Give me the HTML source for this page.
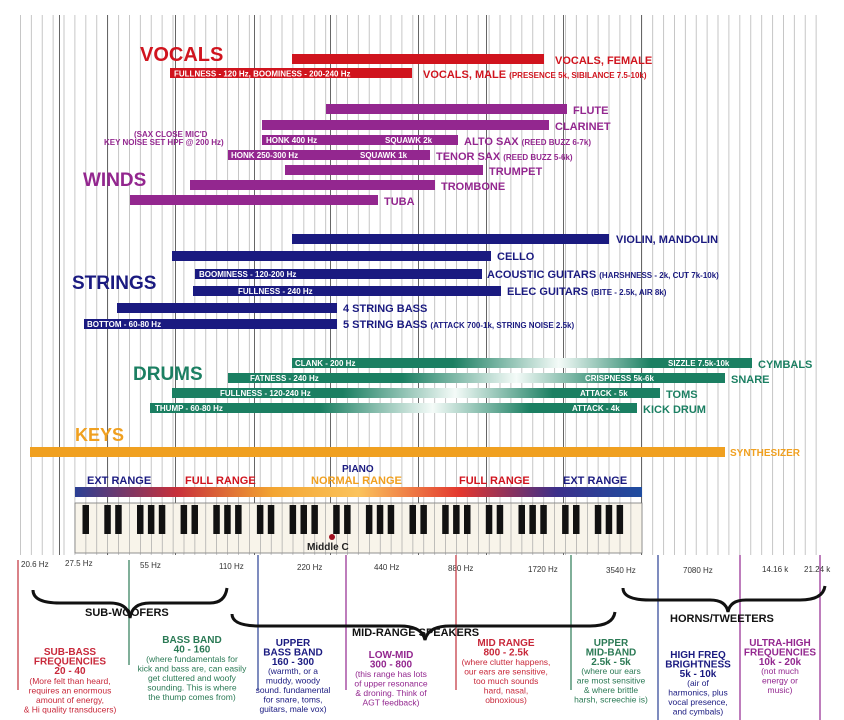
<!DOCTYPE html>
<html><head><meta charset="utf-8"><style>
html,body{margin:0;padding:0;background:#fff}
svg{display:block}
.c{font-family:"Liberation Sans Narrow","Liberation Sans",sans-serif;font-weight:bold}
.s{font-family:"Liberation Sans",sans-serif}
</style></head><body>
<svg width="844" height="720" viewBox="0 0 844 720" xmlns="http://www.w3.org/2000/svg">
<defs>
<pattern id="g" x="20" y="0" width="10.9" height="10" patternUnits="userSpaceOnUse">
<rect x="0" y="0" width="0.8" height="10" fill="#b8b8b8"/></pattern>
<linearGradient id="dr" x1="0" x2="1" y1="0" y2="0">
<stop offset="0" stop-color="#1b7f62"/><stop offset="0.35" stop-color="#1b7f62"/>
<stop offset="0.58" stop-color="#f4fbf8"/><stop offset="0.78" stop-color="#1b7f62"/><stop offset="1" stop-color="#1b7f62"/></linearGradient>
<linearGradient id="pg" x1="0" x2="1">
<stop offset="0" stop-color="#2a3f94"/><stop offset="0.18" stop-color="#c8303a"/>
<stop offset="0.35" stop-color="#f3a531"/><stop offset="0.5" stop-color="#fbc35c"/>
<stop offset="0.68" stop-color="#e2362e"/><stop offset="0.85" stop-color="#3b2f8a"/><stop offset="1" stop-color="#1f4da0"/></linearGradient>
</defs>
<rect x="18" y="15" width="808" height="540" fill="url(#g)"/>
<g fill="#666">
<rect x="59" y="15" width="1" height="540"/><rect x="107" y="15" width="1" height="540"/>
<rect x="175" y="15" width="1" height="540"/><rect x="254" y="15" width="1" height="540"/>
<rect x="330" y="15" width="1" height="540"/><rect x="418" y="15" width="1" height="540"/>
<rect x="486" y="15" width="1" height="540"/><rect x="563" y="15" width="1" height="540"/>
<rect x="641" y="15" width="1" height="540"/>
</g>
<!-- VOCALS -->
<text x="140" y="61" class="c" font-size="20" fill="#d0141e">VOCALS</text>
<rect x="292" y="54" width="252" height="10" fill="#d0141e"/>
<text x="555" y="64" class="c" font-size="11" fill="#d0141e">VOCALS, FEMALE</text>
<rect x="170" y="68" width="242" height="10" fill="#d0141e"/>
<text x="174" y="76.5" class="c" font-size="8" fill="#fff">FULLNESS - 120 Hz, BOOMINESS - 200-240 Hz</text>
<text x="423" y="78" class="c" font-size="11" fill="#d0141e">VOCALS, MALE <tspan font-size="8">(PRESENCE 5k, SIBILANCE 7.5-10k)</tspan></text>
<!-- WINDS -->
<g fill="#93278f">
<rect x="326" y="104" width="241" height="10"/><rect x="262" y="120" width="287" height="10"/>
<rect x="262" y="135" width="196" height="10"/><rect x="228" y="150" width="202" height="10"/>
<rect x="285" y="165" width="198" height="10"/><rect x="190" y="180" width="245" height="10"/>
<rect x="130" y="195" width="248" height="10"/>
</g>
<g class="c" fill="#93278f" font-size="11">
<text x="573" y="114">FLUTE</text><text x="555" y="130">CLARINET</text>
<text x="464" y="145">ALTO SAX <tspan font-size="8">(REED BUZZ 6-7k)</tspan></text>
<text x="436" y="160">TENOR SAX <tspan font-size="8">(REED BUZZ 5-6k)</tspan></text>
<text x="489" y="175">TRUMPET</text><text x="441" y="190">TROMBONE</text><text x="384" y="205">TUBA</text>
<text x="83" y="186" font-size="19">WINDS</text>
<text x="134" y="137" font-size="8">(SAX CLOSE MIC'D</text>
<text x="104" y="145" font-size="8">KEY NOISE SET HPF @ 200 Hz)</text>
</g>
<g class="c" fill="#fff" font-size="8">
<text x="266" y="143">HONK 400 Hz</text><text x="385" y="143">SQUAWK  2k</text>
<text x="231" y="158">HONK 250-300 Hz</text><text x="360" y="158">SQUAWK  1k</text>
</g>
<!-- STRINGS -->
<g fill="#1a1a80">
<rect x="292" y="234" width="317" height="10"/><rect x="172" y="251" width="319" height="10"/>
<rect x="195" y="269" width="287" height="10"/><rect x="193" y="286" width="308" height="10"/>
<rect x="117" y="303" width="220" height="10"/><rect x="84" y="319" width="253" height="10"/>
</g>
<g class="c" fill="#1a1a80" font-size="11">
<text x="616" y="243">VIOLIN, MANDOLIN</text><text x="497" y="260">CELLO</text>
<text x="487" y="278">ACOUSTIC GUITARS <tspan font-size="8">(HARSHNESS - 2k, CUT 7k-10k)</tspan></text>
<text x="507" y="295">ELEC GUITARS <tspan font-size="8">(BITE - 2.5k, AIR 8k)</tspan></text>
<text x="343" y="312">4 STRING BASS</text>
<text x="343" y="328">5 STRING BASS <tspan font-size="8">(ATTACK 700-1k, STRING NOISE 2.5k)</tspan></text>
<text x="72" y="289" font-size="19">STRINGS</text>
</g>
<g class="c" fill="#fff" font-size="8">
<text x="199" y="277">BOOMINESS - 120-200 Hz</text><text x="238" y="294">FULLNESS - 240 Hz</text>
<text x="87" y="327">BOTTOM - 60-80 Hz</text>
</g>
<!-- DRUMS -->
<rect x="292" y="358" width="460" height="10" fill="url(#dr)"/>
<rect x="228" y="373" width="497" height="10" fill="url(#dr)"/>
<rect x="172" y="388" width="488" height="10" fill="url(#dr)"/>
<rect x="150" y="403" width="487" height="10" fill="url(#dr)"/>
<g class="c" fill="#1b7f62" font-size="11">
<text x="758" y="368">CYMBALS</text><text x="731" y="383">SNARE</text>
<text x="666" y="398">TOMS</text><text x="643" y="413">KICK DRUM</text>
<text x="133" y="380" font-size="19">DRUMS</text>
</g>
<g class="c" fill="#fff" font-size="8">
<text x="295" y="366">CLANK - 200 Hz</text><text x="668" y="366">SIZZLE 7.5k-10k</text>
<text x="250" y="381">FATNESS - 240 Hz</text><text x="585" y="381">CRISPNESS 5k-6k</text>
<text x="220" y="396">FULLNESS - 120-240 Hz</text><text x="580" y="396">ATTACK - 5k</text>
<text x="155" y="411">THUMP - 60-80 Hz</text><text x="572" y="411">ATTACK - 4k</text>
</g>
<!-- KEYS -->
<text x="75" y="441" class="c" font-size="18" fill="#f0a020">KEYS</text>
<rect x="30" y="447" width="695" height="10" fill="#f0a020"/>
<text x="730" y="456" class="c" font-size="10" fill="#f0a020">SYNTHESIZER</text>
<!-- PIANO -->
<text x="342" y="472" class="c" font-size="10" fill="#1a1a80">PIANO</text>
<g class="c" font-size="11">
<text x="87" y="484" fill="#1a1a80">EXT RANGE</text><text x="185" y="484" fill="#d0141e">FULL RANGE</text>
<text x="311" y="484" fill="#f0a020">NORMAL RANGE</text><text x="459" y="484" fill="#d0141e">FULL RANGE</text>
<text x="563" y="484" fill="#1a1a80">EXT RANGE</text>
</g>
<rect x="75" y="487" width="567" height="10" fill="url(#pg)"/>
<rect x="75" y="503" width="567" height="50" fill="#f8f4ea" stroke="#777" stroke-width="0.8"/>
<!-- freq labels -->
<g class="s" font-size="8" fill="#333">
<text x="21" y="567">20.6 Hz</text><text x="65" y="566">27.5 Hz</text><text x="140" y="568">55 Hz</text>
<text x="219" y="569">110 Hz</text><text x="297" y="570">220 Hz</text><text x="374" y="570">440 Hz</text>
<text x="448" y="571">880 Hz</text><text x="528" y="572">1720 Hz</text><text x="606" y="573">3540 Hz</text>
<text x="683" y="573">7080 Hz</text><text x="762" y="572">14.16 k</text><text x="804" y="572">21.24 k</text>
</g>
<!-- colored lines -->
<g stroke-width="1.2">
<line x1="18" y1="560" x2="18" y2="690" stroke="#c0303a"/>
<line x1="129" y1="560" x2="129" y2="665" stroke="#2b7a55"/>
<line x1="258" y1="555" x2="258" y2="690" stroke="#2a3f94"/>
<line x1="346" y1="555" x2="346" y2="690" stroke="#93278f"/>
<line x1="456" y1="555" x2="456" y2="690" stroke="#c0303a"/>
<line x1="571" y1="555" x2="571" y2="690" stroke="#2b7a55"/>
<line x1="658" y1="555" x2="658" y2="720" stroke="#2a3f94"/>
<line x1="740" y1="555" x2="740" y2="720" stroke="#93278f"/>
<line x1="820" y1="555" x2="820" y2="720" stroke="#93278f"/>
</g>
<!-- braces -->
<g fill="none" stroke="#111" stroke-width="3">
<path d="M33 590 Q33 603 60 603 L110 603 Q128 603 130 618 Q132 603 150 603 L210 603 Q225 603 227 588"/>
<path d="M232 614 Q232 626 260 626 L400 626 Q422 626 425 640 Q428 626 450 626 L590 626 Q613 626 615 612"/>
<path d="M623 588 Q623 600 650 600 L710 600 Q726 600 728 612 Q730 600 746 600 L800 600 Q823 600 825 586"/>
</g>
<g class="s" font-weight="bold" font-size="11" fill="#111">
<text x="85" y="616">SUB-WOOFERS</text>
<text x="352" y="636">MID-RANGE SPEAKERS</text>
<text x="670" y="622">HORNS/TWEETERS</text>
</g>
<!-- bottom columns -->
<g class="s" text-anchor="middle" font-size="8.5">
<g fill="#c8283a"><text y="655" font-weight="bold" font-size="10"><tspan x="70">SUB-BASS</tspan><tspan x="70" dy="9.5">FREQUENCIES</tspan><tspan x="70" dy="9.5">20 - 40</tspan></text>
<text y="684"><tspan x="70">(More felt than heard,</tspan><tspan x="70" dy="9.5">requires an enormous</tspan><tspan x="70" dy="9.5">amount of energy,</tspan><tspan x="70" dy="9.5">&amp; Hi quality transducers)</tspan></text></g>
<g fill="#2b7a55"><text y="643" font-weight="bold" font-size="10"><tspan x="192">BASS BAND</tspan><tspan x="192" dy="9.5">40 - 160</tspan></text>
<text y="662"><tspan x="192">(where fundamentals for</tspan><tspan x="192" dy="9.5">kick and bass are, can easily</tspan><tspan x="192" dy="9.5">get cluttered and woofy</tspan><tspan x="192" dy="9.5">sounding. This is where</tspan><tspan x="192" dy="9.5">the thump comes from)</tspan></text></g>
<g fill="#1a1a80"><text y="646" font-weight="bold" font-size="10"><tspan x="293">UPPER</tspan><tspan x="293" dy="9.5">BASS BAND</tspan><tspan x="293" dy="9.5">160 - 300</tspan></text>
<text y="674"><tspan x="293">(warmth, or a</tspan><tspan x="293" dy="9.5">muddy, woody</tspan><tspan x="293" dy="9.5">sound. fundamental</tspan><tspan x="293" dy="9.5">for snare, toms,</tspan><tspan x="293" dy="9.5">guitars, male vox)</tspan></text></g>
<g fill="#93278f"><text y="658" font-weight="bold" font-size="10"><tspan x="391">LOW-MID</tspan><tspan x="391" dy="9.5">300 - 800</tspan></text>
<text y="677"><tspan x="391">(this range has lots</tspan><tspan x="391" dy="9.5">of upper resonance</tspan><tspan x="391" dy="9.5">&amp; droning. Think of</tspan><tspan x="391" dy="9.5">AGT feedback)</tspan></text></g>
<g fill="#c8283a"><text y="646" font-weight="bold" font-size="10"><tspan x="506">MID RANGE</tspan><tspan x="506" dy="9.5">800 - 2.5k</tspan></text>
<text y="665"><tspan x="506">(where clutter happens,</tspan><tspan x="506" dy="9.5">our ears are sensitive,</tspan><tspan x="506" dy="9.5">too much sounds</tspan><tspan x="506" dy="9.5">hard, nasal,</tspan><tspan x="506" dy="9.5">obnoxious)</tspan></text></g>
<g fill="#2b7a55"><text y="646" font-weight="bold" font-size="10"><tspan x="611">UPPER</tspan><tspan x="611" dy="9.5">MID-BAND</tspan><tspan x="611" dy="9.5">2.5k - 5k</tspan></text>
<text y="674"><tspan x="611">(where our ears</tspan><tspan x="611" dy="9.5">are most sensitive</tspan><tspan x="611" dy="9.5">&amp; where brittle</tspan><tspan x="611" dy="9.5">harsh, screechie is)</tspan></text></g>
<g fill="#1a1a80"><text y="658" font-weight="bold" font-size="10"><tspan x="698">HIGH FREQ</tspan><tspan x="698" dy="9.5">BRIGHTNESS</tspan><tspan x="698" dy="9.5">5k - 10k</tspan></text>
<text y="686"><tspan x="698">(air of</tspan><tspan x="698" dy="9.5">harmonics, plus</tspan><tspan x="698" dy="9.5">vocal presence,</tspan><tspan x="698" dy="9.5">and cymbals)</tspan></text></g>
<g fill="#93278f"><text y="646" font-weight="bold" font-size="10"><tspan x="780">ULTRA-HIGH</tspan><tspan x="780" dy="9.5">FREQUENCIES</tspan><tspan x="780" dy="9.5">10k - 20k</tspan></text>
<text y="674"><tspan x="780">(not much</tspan><tspan x="780" dy="9.5">energy or</tspan><tspan x="780" dy="9.5">music)</tspan></text></g>
</g>
<!-- keyboard keys -->
<g stroke="#999" stroke-width="0.6">
<line x1="85.9" y1="503" x2="85.9" y2="553"/><line x1="96.8" y1="503" x2="96.8" y2="553"/><line x1="107.7" y1="503" x2="107.7" y2="553"/><line x1="118.6" y1="503" x2="118.6" y2="553"/><line x1="129.5" y1="503" x2="129.5" y2="553"/><line x1="140.4" y1="503" x2="140.4" y2="553"/><line x1="151.3" y1="503" x2="151.3" y2="553"/><line x1="162.2" y1="503" x2="162.2" y2="553"/><line x1="173.1" y1="503" x2="173.1" y2="553"/><line x1="184" y1="503" x2="184" y2="553"/><line x1="194.9" y1="503" x2="194.9" y2="553"/><line x1="205.8" y1="503" x2="205.8" y2="553"/><line x1="216.7" y1="503" x2="216.7" y2="553"/><line x1="227.6" y1="503" x2="227.6" y2="553"/><line x1="238.5" y1="503" x2="238.5" y2="553"/><line x1="249.4" y1="503" x2="249.4" y2="553"/><line x1="260.3" y1="503" x2="260.3" y2="553"/><line x1="271.2" y1="503" x2="271.2" y2="553"/><line x1="282.1" y1="503" x2="282.1" y2="553"/><line x1="293" y1="503" x2="293" y2="553"/><line x1="303.9" y1="503" x2="303.9" y2="553"/><line x1="314.8" y1="503" x2="314.8" y2="553"/><line x1="325.7" y1="503" x2="325.7" y2="553"/><line x1="336.6" y1="503" x2="336.6" y2="553"/><line x1="347.5" y1="503" x2="347.5" y2="553"/><line x1="358.4" y1="503" x2="358.4" y2="553"/><line x1="369.3" y1="503" x2="369.3" y2="553"/><line x1="380.2" y1="503" x2="380.2" y2="553"/><line x1="391.1" y1="503" x2="391.1" y2="553"/><line x1="402" y1="503" x2="402" y2="553"/><line x1="412.9" y1="503" x2="412.9" y2="553"/><line x1="423.8" y1="503" x2="423.8" y2="553"/><line x1="434.7" y1="503" x2="434.7" y2="553"/><line x1="445.6" y1="503" x2="445.6" y2="553"/><line x1="456.5" y1="503" x2="456.5" y2="553"/><line x1="467.4" y1="503" x2="467.4" y2="553"/><line x1="478.3" y1="503" x2="478.3" y2="553"/><line x1="489.2" y1="503" x2="489.2" y2="553"/><line x1="500.1" y1="503" x2="500.1" y2="553"/><line x1="511" y1="503" x2="511" y2="553"/><line x1="521.9" y1="503" x2="521.9" y2="553"/><line x1="532.8" y1="503" x2="532.8" y2="553"/><line x1="543.7" y1="503" x2="543.7" y2="553"/><line x1="554.6" y1="503" x2="554.6" y2="553"/><line x1="565.5" y1="503" x2="565.5" y2="553"/><line x1="576.4" y1="503" x2="576.4" y2="553"/><line x1="587.3" y1="503" x2="587.3" y2="553"/><line x1="598.2" y1="503" x2="598.2" y2="553"/><line x1="609.1" y1="503" x2="609.1" y2="553"/><line x1="620" y1="503" x2="620" y2="553"/><line x1="630.9" y1="503" x2="630.9" y2="553"/>
</g>
<g fill="#111">
<rect x="82.5" y="505" width="6.5" height="29"/>
<rect x="104.3" y="505" width="6.5" height="29"/><rect x="115.2" y="505" width="6.5" height="29"/>
<rect x="137" y="505" width="6.5" height="29"/><rect x="147.9" y="505" width="6.5" height="29"/><rect x="158.8" y="505" width="6.5" height="29"/>
<rect x="180.6" y="505" width="6.5" height="29"/><rect x="191.5" y="505" width="6.5" height="29"/>
<rect x="213.3" y="505" width="6.5" height="29"/><rect x="224.2" y="505" width="6.5" height="29"/><rect x="235.1" y="505" width="6.5" height="29"/>
<rect x="256.9" y="505" width="6.5" height="29"/><rect x="267.8" y="505" width="6.5" height="29"/>
<rect x="289.6" y="505" width="6.5" height="29"/><rect x="300.5" y="505" width="6.5" height="29"/><rect x="311.4" y="505" width="6.5" height="29"/>
<rect x="333.2" y="505" width="6.5" height="29"/><rect x="344.1" y="505" width="6.5" height="29"/>
<rect x="365.9" y="505" width="6.5" height="29"/><rect x="376.8" y="505" width="6.5" height="29"/><rect x="387.7" y="505" width="6.5" height="29"/>
<rect x="409.5" y="505" width="6.5" height="29"/><rect x="420.4" y="505" width="6.5" height="29"/>
<rect x="442.2" y="505" width="6.5" height="29"/><rect x="453.1" y="505" width="6.5" height="29"/><rect x="464" y="505" width="6.5" height="29"/>
<rect x="485.8" y="505" width="6.5" height="29"/><rect x="496.7" y="505" width="6.5" height="29"/>
<rect x="518.5" y="505" width="6.5" height="29"/><rect x="529.4" y="505" width="6.5" height="29"/><rect x="540.3" y="505" width="6.5" height="29"/>
<rect x="562.1" y="505" width="6.5" height="29"/><rect x="573" y="505" width="6.5" height="29"/>
<rect x="594.8" y="505" width="6.5" height="29"/><rect x="605.7" y="505" width="6.5" height="29"/><rect x="616.6" y="505" width="6.5" height="29"/>
</g>
<circle cx="332" cy="537" r="3" fill="#a01020"/>
<text x="307" y="550" class="c" font-size="10" fill="#222">Middle C</text>
</svg>
</body></html>
